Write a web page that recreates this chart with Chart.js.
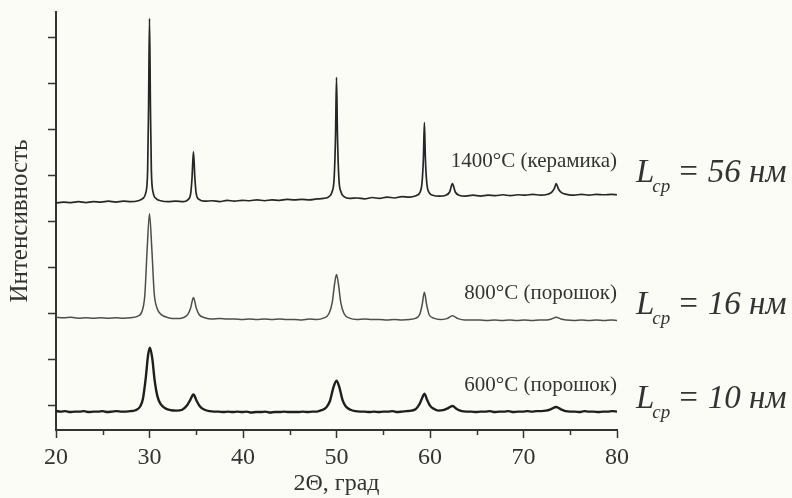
<!DOCTYPE html>
<html>
<head>
<meta charset="utf-8">
<script src="https://cdn.jsdelivr.net/npm/chart.js@4.4.0/dist/chart.umd.min.js"></script>
<style>
  html, body { margin: 0; padding: 0; background: #fcfcf7; }
</style>
</head>
<body>
<canvas id="canvas-xrd" width="792" height="498"></canvas>
<script>
const sampleLabels = ['1400°C (керамика)', '800°C (порошок)', '600°C (порошок)'];
const grainSizes = [56, 16, 10];
const xTickValues = [20, 30, 40, 50, 60, 70, 80];
const xMinorTicks = [25, 35, 45, 55, 65, 75];
const yTickValues = [0, 1, 2, 3, 4, 5, 6, 7, 8];

// diffractograms, [2theta, intensity] (curves are stacked with an offset)
const scan1400 = [
    [20.0, 4.40], [20.8, 4.42], [21.6, 4.41], [22.4, 4.43], [23.2, 4.41], [24.0, 4.43], [24.8, 4.42],
    [25.6, 4.44], [26.4, 4.42], [27.2, 4.44], [28.0, 4.43], [28.8, 4.45], [29.3, 4.50], [29.6, 4.62],
    [29.8, 5.10], [29.9, 6.50], [30.0, 8.41], [30.1, 6.50], [30.2, 5.10], [30.4, 4.62], [30.7, 4.50],
    [31.2, 4.45], [32.0, 4.43], [32.8, 4.44], [33.6, 4.43], [34.1, 4.47], [34.4, 4.60], [34.55, 4.95],
    [34.7, 5.52], [34.85, 4.95], [35.0, 4.60], [35.3, 4.48], [35.9, 4.44], [36.7, 4.45], [37.5, 4.43],
    [38.3, 4.46], [39.1, 4.44], [39.9, 4.46], [40.7, 4.45], [41.5, 4.47], [42.3, 4.45], [43.1, 4.47],
    [43.9, 4.46], [44.7, 4.48], [45.5, 4.47], [46.3, 4.48], [47.1, 4.47], [47.9, 4.49], [48.6, 4.50],
    [49.2, 4.54], [49.5, 4.63], [49.75, 4.95], [49.9, 5.90], [50.0, 7.13], [50.1, 5.90], [50.25, 4.95],
    [50.5, 4.63], [50.8, 4.54], [51.4, 4.50], [52.2, 4.51], [53.0, 4.49], [53.8, 4.52], [54.6, 4.50],
    [55.4, 4.53], [56.2, 4.51], [57.0, 4.54], [57.8, 4.53], [58.5, 4.56], [58.9, 4.62], [59.15, 4.85],
    [59.3, 5.40], [59.4, 6.15], [59.5, 5.40], [59.65, 4.85], [59.9, 4.63], [60.3, 4.57], [61.0, 4.55],
    [61.7, 4.57], [62.1, 4.64], [62.4, 4.82], [62.7, 4.64], [63.1, 4.57], [63.8, 4.55], [64.6, 4.57],
    [65.4, 4.55], [66.2, 4.57], [67.0, 4.56], [67.8, 4.58], [68.6, 4.56], [69.4, 4.58], [70.2, 4.57],
    [71.0, 4.59], [71.8, 4.57], [72.6, 4.59], [73.0, 4.63], [73.3, 4.72], [73.5, 4.82], [73.75, 4.70],
    [74.1, 4.62], [74.6, 4.59], [75.4, 4.57], [76.2, 4.59], [77.0, 4.57], [77.8, 4.59], [78.6, 4.58],
    [79.4, 4.59], [80.0, 4.58]
];

const scan800 = [
    [20.0, 1.92], [20.8, 1.91], [21.6, 1.92], [22.4, 1.90], [23.2, 1.91], [24.0, 1.90], [24.8, 1.91],
    [25.6, 1.90], [26.4, 1.91], [27.2, 1.90], [28.0, 1.91], [28.7, 1.94], [29.2, 2.05], [29.5, 2.40],
    [29.75, 3.40], [30.0, 4.17], [30.25, 3.40], [30.5, 2.45], [30.8, 2.12], [31.3, 1.97], [32.0, 1.91],
    [32.8, 1.89], [33.6, 1.91], [34.1, 1.98], [34.4, 2.12], [34.7, 2.35], [35.0, 2.12], [35.3, 1.98],
    [35.9, 1.91], [36.7, 1.88], [37.5, 1.89], [38.3, 1.88], [39.1, 1.88], [39.9, 1.87], [40.7, 1.88],
    [41.5, 1.87], [42.3, 1.88], [43.1, 1.87], [43.9, 1.88], [44.7, 1.87], [45.5, 1.87], [46.3, 1.86],
    [47.1, 1.88], [47.9, 1.87], [48.6, 1.90], [49.2, 2.00], [49.55, 2.25], [49.8, 2.65], [50.0, 2.85],
    [50.2, 2.65], [50.45, 2.25], [50.8, 2.00], [51.4, 1.90], [52.2, 1.87], [53.0, 1.88], [53.8, 1.87],
    [54.6, 1.87], [55.4, 1.86], [56.2, 1.87], [57.0, 1.86], [57.8, 1.87], [58.5, 1.90], [58.9, 1.98],
    [59.15, 2.18], [59.4, 2.46], [59.65, 2.18], [59.9, 1.98], [60.4, 1.90], [61.1, 1.87], [61.8, 1.89],
    [62.4, 1.95], [63.0, 1.89], [63.7, 1.86], [64.5, 1.86], [65.3, 1.86], [66.1, 1.85], [66.9, 1.86],
    [67.7, 1.85], [68.5, 1.86], [69.3, 1.85], [70.1, 1.86], [70.9, 1.85], [71.7, 1.86], [72.5, 1.86],
    [73.0, 1.88], [73.5, 1.92], [74.0, 1.88], [74.6, 1.86], [75.4, 1.85], [76.2, 1.86], [77.0, 1.85],
    [77.8, 1.86], [78.6, 1.85], [79.4, 1.86], [80.0, 1.85]
];

const scan600 = [
    [20.0, -0.12], [20.5, -0.13], [21.0, -0.12], [21.5, -0.14], [22.0, -0.13], [22.5, -0.13], [23.0, -0.12],
    [23.5, -0.14], [24.0, -0.13], [24.5, -0.13], [25.0, -0.12], [25.5, -0.14], [26.0, -0.13], [26.5, -0.12],
    [27.0, -0.13], [27.5, -0.13], [28.0, -0.12], [28.5, -0.10], [29.0, -0.02], [29.3, 0.15], [29.6, 0.60],
    [29.85, 1.10], [30.05, 1.26], [30.3, 1.02], [30.55, 0.55], [30.85, 0.20], [31.2, 0.03], [31.7, -0.06],
    [32.3, -0.10], [32.9, -0.11], [33.5, -0.09], [34.0, 0.00], [34.35, 0.12], [34.7, 0.24], [35.05, 0.10],
    [35.4, -0.02], [35.9, -0.09], [36.4, -0.12], [36.9, -0.13], [37.4, -0.13], [37.9, -0.14], [38.4, -0.13],
    [38.9, -0.14], [39.4, -0.13], [39.9, -0.14], [40.4, -0.13], [40.9, -0.15], [41.4, -0.14], [41.9, -0.14],
    [42.4, -0.13], [42.9, -0.15], [43.4, -0.14], [43.9, -0.14], [44.4, -0.13], [44.9, -0.14], [45.4, -0.14],
    [45.9, -0.14], [46.4, -0.13], [46.9, -0.14], [47.4, -0.13], [47.9, -0.13], [48.4, -0.10], [48.9, -0.04],
    [49.3, 0.10], [49.65, 0.38], [50.0, 0.54], [50.3, 0.40], [50.65, 0.12], [51.0, -0.02], [51.5, -0.09],
    [52.0, -0.12], [52.5, -0.13], [53.0, -0.13], [53.5, -0.14], [54.0, -0.13], [54.5, -0.14], [55.0, -0.13],
    [55.5, -0.13], [56.0, -0.12], [56.5, -0.14], [57.0, -0.13], [57.5, -0.12], [58.0, -0.11], [58.5, -0.07],
    [58.9, 0.04], [59.15, 0.16], [59.4, 0.26], [59.7, 0.12], [60.0, 0.00], [60.4, -0.07], [60.9, -0.11],
    [61.4, -0.10], [61.9, -0.06], [62.4, -0.01], [62.9, -0.08], [63.4, -0.12], [63.9, -0.13], [64.4, -0.13],
    [64.9, -0.14], [65.4, -0.13], [65.9, -0.13], [66.4, -0.12], [66.9, -0.14], [67.4, -0.13], [67.9, -0.13],
    [68.4, -0.12], [68.9, -0.14], [69.4, -0.13], [69.9, -0.13], [70.4, -0.12], [70.9, -0.13], [71.4, -0.12],
    [71.9, -0.12], [72.4, -0.11], [72.9, -0.08], [73.5, -0.03], [74.0, -0.08], [74.5, -0.12], [75.0, -0.13],
    [75.5, -0.13], [76.0, -0.14], [76.5, -0.12], [77.0, -0.13], [77.5, -0.13], [78.0, -0.14], [78.5, -0.13],
    [79.0, -0.13], [79.5, -0.12], [80.0, -0.13]
];

const serif = '"Liberation Serif", "DejaVu Serif", serif';
const ink = '#333333';

function toPoints(scan) {
    return scan.map(p => ({ x: p[0], y: p[1] }));
}

// paper background
const backgroundPlugin = {
    id: 'paper',
    beforeDraw(chart) {
        const c = chart.ctx;
        c.save();
        c.fillStyle = '#fcfcf7';
        c.fillRect(0, 0, chart.width, chart.height);
        c.restore();
    }
};

// short minor ticks on the 2theta axis
const minorTicksPlugin = {
    id: 'minorTicks',
    afterDraw(chart) {
        const c = chart.ctx;
        const xs = chart.scales.x;
        const y0 = chart.chartArea.bottom;
        c.save();
        c.strokeStyle = ink;
        c.lineWidth = 1.5;
        xMinorTicks.forEach(v => {
            const px = Math.round(xs.getPixelForValue(v)) + 0.5;
            c.beginPath();
            c.moveTo(px, y0);
            c.lineTo(px, y0 + 5);
            c.stroke();
        });
        c.restore();
    }
};

// sample names above each curve and crystallite size on the right
const curveLabelsPlugin = {
    id: 'curveLabels',
    afterDatasetsDraw(chart) {
        const c = chart.ctx;
        const xs = chart.scales.x;
        const ys = chart.scales.y;
        const nameLevels = [5.30, 2.44, 0.43];
        const sizeLevels = [4.86, 1.99, -0.06];
        const right = xs.getPixelForValue(80);

        c.save();
        c.fillStyle = ink;
        sampleLabels.forEach((name, i) => {
            c.font = '21px ' + serif;
            c.textAlign = 'right';
            c.textBaseline = 'middle';
            c.fillText(name, right, ys.getPixelForValue(nameLevels[i]));

            const base = ys.getPixelForValue(sizeLevels[i]);
            let x = chart.chartArea.right + 19;
            c.textAlign = 'left';
            c.textBaseline = 'alphabetic';
            c.font = 'italic 33px ' + serif;
            c.fillText('L', x, base);
            x += c.measureText('L').width - 2;
            c.font = 'italic 19px ' + serif;
            c.fillText('ср', x, base + 10);
            x += c.measureText('ср').width + 7;
            c.font = 'italic 33px ' + serif;
            c.fillText('= ' + grainSizes[i] + ' нм', x, base);
        });
        c.restore();
    }
};

const ctx = document.getElementById('canvas-xrd').getContext('2d');

new Chart(ctx, {
    type: 'line',
    data: {
        datasets: [
            { label: sampleLabels[0], data: toPoints(scan1400), borderColor: '#262626', borderWidth: 1.7 },
            { label: sampleLabels[1], data: toPoints(scan800), borderColor: '#4d4d4d', borderWidth: 1.5 },
            { label: sampleLabels[2], data: toPoints(scan600), borderColor: '#1e1e1e', borderWidth: 2.4 }
        ]
    },
    options: {
        responsive: false,
        devicePixelRatio: 1,
        animation: false,
        layout: { padding: { top: 12, right: 175, left: 0, bottom: 0 } },
        elements: {
            point: { radius: 0 },
            line: { cubicInterpolationMode: 'monotone', fill: false }
        },
        plugins: {
            legend: { display: false },
            tooltip: { enabled: false }
        },
        scales: {
            x: {
                type: 'linear',
                min: 20,
                max: 80,
                afterBuildTicks: s => { s.ticks = xTickValues.map(v => ({ value: v })); },
                ticks: { font: { family: serif, size: 24 }, color: ink, padding: 5, maxRotation: 0 },
                grid: { drawOnChartArea: false, tickLength: 8, color: ink, tickWidth: 1.5 },
                border: { color: ink, width: 2 },
                title: {
                    display: true,
                    text: '2Θ, град',
                    font: { family: serif, size: 24 },
                    color: ink,
                    padding: { top: 0, bottom: 0 }
                },
                afterFit: s => { s.height = 68; }
            },
            y: {
                type: 'linear',
                min: -0.53,
                max: 8.55,
                afterBuildTicks: s => { s.ticks = yTickValues.map(v => ({ value: v })); },
                ticks: { display: false },
                grid: { drawOnChartArea: false, tickLength: 8, color: ink, tickWidth: 1.5 },
                border: { color: ink, width: 2 },
                title: {
                    display: true,
                    text: 'Интенсивность',
                    font: { family: serif, size: 25 },
                    color: ink,
                    padding: { top: 5, bottom: 0 }
                },
                afterFit: s => { s.width = 56; }
            }
        }
    },
    plugins: [backgroundPlugin, minorTicksPlugin, curveLabelsPlugin]
});
</script>
</body>
</html>
